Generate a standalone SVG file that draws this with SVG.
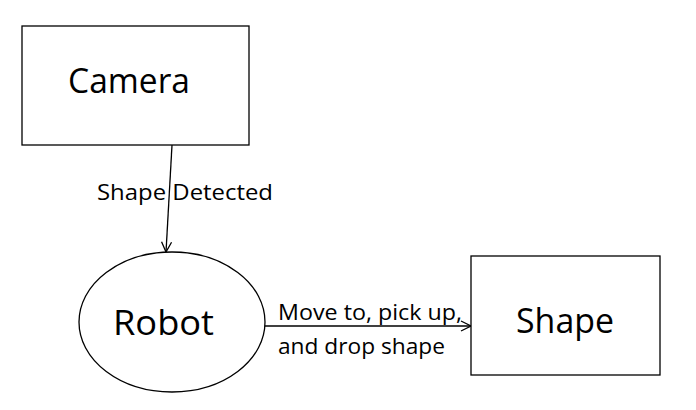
<svg xmlns="http://www.w3.org/2000/svg" width="696" height="410" viewBox="0 0 696 410">
<style>
.box{fill:#fff;stroke:#000;stroke-width:1.3}
.t{font-family:"Open Sans","Liberation Sans",sans-serif;fill:#000}
.big{font-size:34px}
.lbl{font-size:21px}
.ln{stroke:#000;stroke-width:1.3;fill:none}
</style>
<defs>
<marker id="ah" viewBox="0 0 12 12" refX="11" refY="6" markerWidth="12" markerHeight="12" markerUnits="userSpaceOnUse" orient="auto">
<path d="M1,1 L11,6 L1,11" fill="none" stroke="#000" stroke-width="1.3"/>
</marker>
</defs>
<rect width="696" height="410" fill="#fff"/>
<g id="connectors">
<line class="ln" x1="172" y1="145" x2="166" y2="252" marker-end="url(#ah)"/>
<line class="ln" x1="263" y1="326" x2="471" y2="326" marker-end="url(#ah)"/>
<text class="t lbl" x="97" y="200" textLength="176" lengthAdjust="spacingAndGlyphs">Shape  Detected</text>
<text class="t lbl" x="278" y="320" textLength="184" lengthAdjust="spacingAndGlyphs">Move to, pick up,</text>
<text class="t lbl" x="278" y="354" textLength="167" lengthAdjust="spacingAndGlyphs">and drop shape</text>
</g>
<g id="camera">
<rect class="box" x="22" y="26" width="227" height="119"/>
<text class="t big" x="68" y="93" textLength="122" lengthAdjust="spacingAndGlyphs">Camera</text>
</g>
<g id="robot">
<ellipse class="box" cx="172" cy="322" rx="93" ry="70"/>
<text class="t big" x="113" y="335" textLength="101" lengthAdjust="spacingAndGlyphs">Robot</text>
</g>
<g id="shape">
<rect class="box" x="471" y="256" width="189" height="119"/>
<text class="t big" x="516" y="333" textLength="98" lengthAdjust="spacingAndGlyphs">Shape</text>
</g>
</svg>
